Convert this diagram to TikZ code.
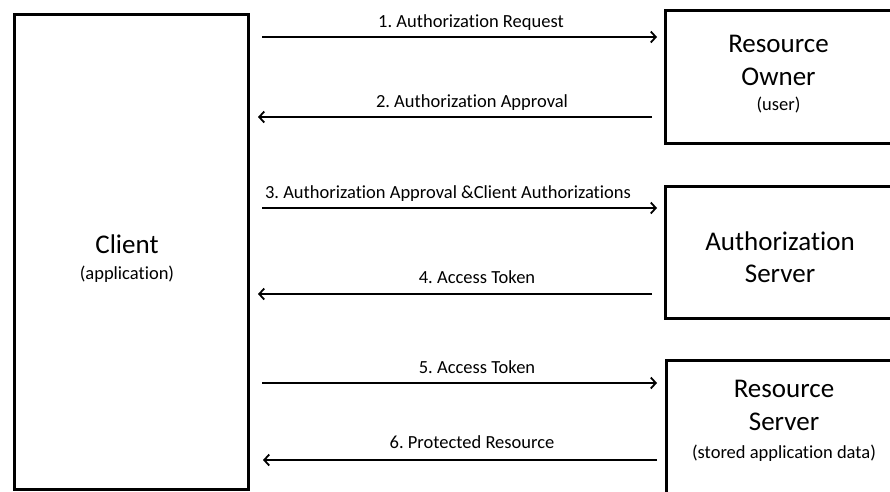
\documentclass[tikz,border=0pt]{standalone}
\usepackage{fontspec}
\setmainfont{Carlito}[Ligatures={TeX,NoCommon}]
\frenchspacing
\usetikzlibrary{arrows.meta}
\tikzset{
  x=1pt, y=-1pt,
  party/.style={draw, line width=3pt, inner sep=0pt, outer sep=0pt, anchor=north west},
  msg/.style={line width=1.8pt, -{Straight Barb[length=5pt, width=11pt, line width=1.8pt]}},
  msglabel/.style={anchor=base, inner sep=0pt, font=\fontsize{18.5}{20}\selectfont},
  bigtext/.style={anchor=base, inner sep=0pt, font=\fontsize{27}{30}\selectfont},
  smalltext/.style={anchor=base, inner sep=0pt, font=\fontsize{18.5}{20}\selectfont},
}
\begin{document}
\begin{tikzpicture}
\useasboundingbox (0,0) rectangle (890,491);
\clip (0,0) rectangle (890,491);
% the four parties
\node[party, minimum width=233.5pt, minimum height=475pt] (client) at (14.5,14) {};
\node[party, minimum width=228pt, minimum height=133pt] (ro) at (665.5,10) {};
\node[party, minimum width=228pt, minimum height=132pt] (as) at (665.5,186.5) {};
\node[party, minimum width=228pt, minimum height=140pt] (rs) at (666.5,360) {};

% box captions
\node[bigtext] (clientname) at (127,253) {Client};
\node[smalltext] (clientsub) at (127,279) {(application)};
\node[bigtext] (roname1) at (778.5,52) {Resource};
\node[bigtext] (roname2) at (778.5,85) {Owner};
\node[smalltext] (rosub) at (778.5,110) {(user)};
\node[bigtext] (asname1) at (780,250) {Authorization};
\node[bigtext] (asname2) at (780,282) {Server};
\node[bigtext] (rsname1) at (784,397) {Resource};
\node[bigtext] (rsname2) at (784,430) {Server};
\node[smalltext] (rssub) at (784,458) {(stored application data)};

% messages
\draw[msg, shorten <=14pt, shorten >=8.5pt] (client.east |- 0,37) -- (ro.west |- 0,37);
\draw[msg, shorten <=13.5pt, shorten >=10pt] (ro.west |- 0,117) -- (client.east |- 0,117);
\draw[msg, shorten <=14pt, shorten >=8.5pt] (client.east |- 0,208) -- (as.west |- 0,208);
\draw[msg, shorten <=13.5pt, shorten >=10pt] (as.west |- 0,294) -- (client.east |- 0,294);
\draw[msg, shorten <=14pt, shorten >=9.5pt] (client.east |- 0,383) -- (rs.west |- 0,383);
\draw[msg, shorten <=9.5pt, shorten >=15pt] (rs.west |- 0,460) -- (client.east |- 0,460);

% message labels
\node[msglabel] (m1) at (471,27) {1. Authorization Request};
\node[msglabel] (m2) at (472,107) {2. Authorization Approval};
\node[msglabel] (m3) at (448,198) {3. Authorization Approval \&Client Authorizations};
\node[msglabel] (m4) at (477,283) {4. Access Token};
\node[msglabel] (m5) at (477,373) {5. Access Token};
\node[msglabel] (m6) at (472,448) {6. Protected Resource};
\end{tikzpicture}
\end{document}
